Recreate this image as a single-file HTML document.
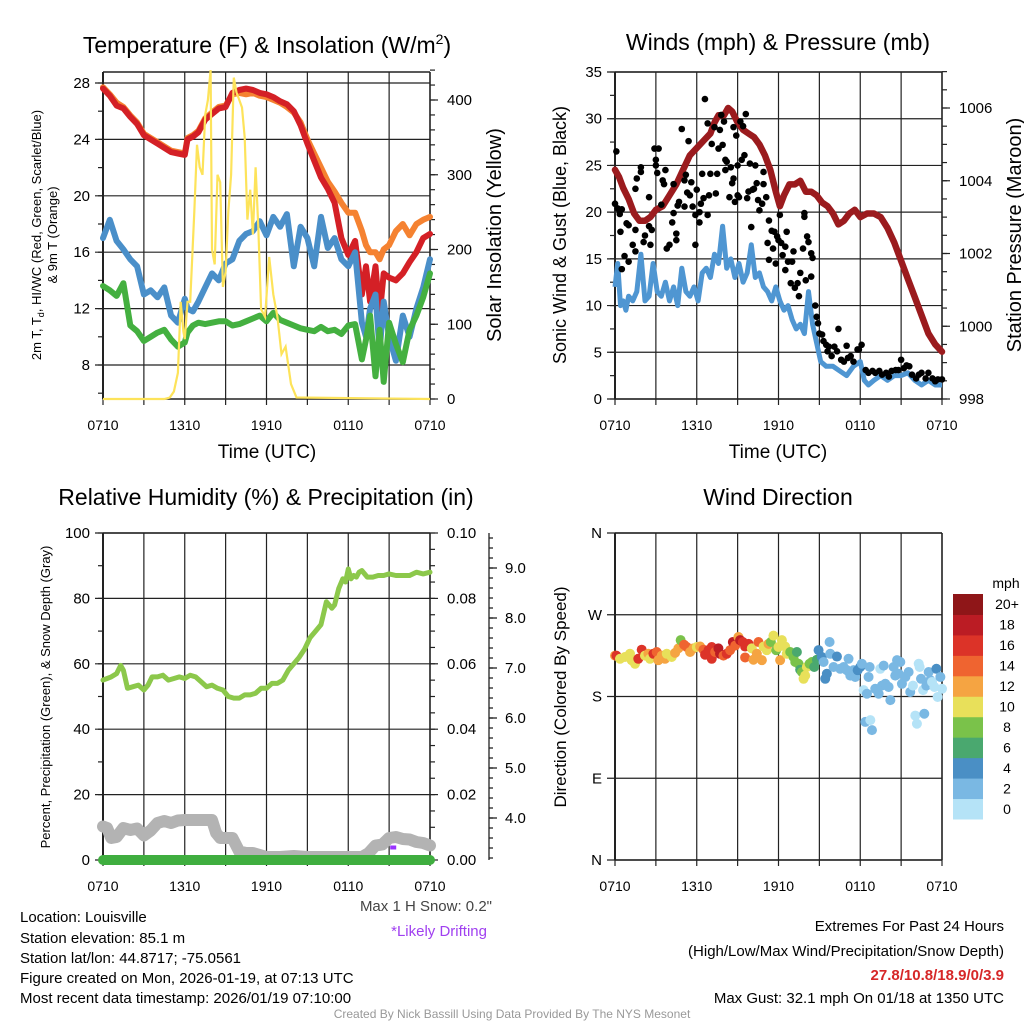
<!DOCTYPE html>
<html><head><meta charset="utf-8"><style>
html,body{margin:0;padding:0;background:#fff}
svg{display:block;font-family:"Liberation Sans",sans-serif}
</style></head><body>
<svg id="s" width="1024" height="1024" viewBox="0 0 1024 1024">
<rect width="1024" height="1024" fill="#fff"/>
<g font-size="23" text-anchor="middle" fill="#000">
<text x="267" y="53">Temperature (F) &amp; Insolation (W/m<tspan dy="-9" font-size="14">2</tspan><tspan dy="9">)</tspan></text>
<text x="778" y="50">Winds (mph) &amp; Pressure (mb)</text>
<text x="266" y="505">Relative Humidity (%) &amp; Precipitation (in)</text>
<text x="778" y="505">Wind Direction</text>
</g>
<g font-size="19" text-anchor="middle">
<text x="267" y="458">Time (UTC)</text>
<text x="778" y="458">Time (UTC)</text>
</g>
<text transform="translate(41,235) rotate(-90)" font-size="13" text-anchor="middle">2m T, T<tspan dy="3" font-size="9">d</tspan><tspan dy="-3">, HI/WC (Red, Green, Scarlet/Blue)</tspan></text>
<text transform="translate(57,235) rotate(-90)" font-size="13" text-anchor="middle">&amp; 9m T (Orange)</text>
<text transform="translate(501,235) rotate(-90)" font-size="20" text-anchor="middle">Solar Insolation (Yellow)</text>
<text transform="translate(566,235) rotate(-90)" font-size="18" text-anchor="middle">Sonic Wind &amp; Gust (Blue, Black)</text>
<text transform="translate(1021,235) rotate(-90)" font-size="20" text-anchor="middle">Station Pressure (Maroon)</text>
<text transform="translate(50,697) rotate(-90)" font-size="13" text-anchor="middle">Percent, Precipitation (Green), &amp; Snow Depth (Gray)</text>
<text transform="translate(566,697) rotate(-90)" font-size="17" text-anchor="middle">Direction (Colored By Speed)</text>
<g font-size="15" fill="#000">
<text x="20" y="922">Location: Louisville</text>
<text x="20" y="943">Station elevation: 85.1 m</text>
<text x="20" y="963">Station lat/lon: 44.8717; -75.0561</text>
<text x="20" y="983">Figure created on Mon, 2026-01-19, at 07:13 UTC</text>
<text x="20" y="1003">Most recent data timestamp: 2026/01/19 07:10:00</text>
<text x="492" y="911" text-anchor="end" fill="#444">Max 1 H Snow: 0.2"</text>
<text x="487" y="936" text-anchor="end" fill="#a040f0">*Likely Drifting</text>
<text x="1004" y="931" text-anchor="end">Extremes For Past 24 Hours</text>
<text x="1004" y="956" text-anchor="end">(High/Low/Max Wind/Precipitation/Snow Depth)</text>
<text x="1004" y="980" text-anchor="end" fill="#d62728" font-weight="bold">27.8/10.8/18.9/0/3.9</text>
<text x="1004" y="1003" text-anchor="end">Max Gust: 32.1 mph On 01/18 at 1350 UTC</text>
</g>
<text x="512" y="1018" font-size="12" fill="#999" text-anchor="middle">Created By Nick Bassill Using Data Provided By The NYS Mesonet</text>
</svg>
<script>
// ---- data (hours since 0710 UTC) ----
const xTickLabels=["0710","1310","1910","0110","0710"];
const tempTicks=[28,24,20,16,12,8];
const solarTicks=[0,100,200,300,400];
const windTicks=[0,5,10,15,20,25,30,35];
const presTicks=[998,1000,1002,1004,1006];
const rhTicks=[0,20,40,60,80,100];
const precipTicks=["0.00","0.02","0.04","0.06","0.08","0.10"];
const snowTicks=[4,5,6,7,8,9];
const dirTicks=["N","E","S","W","N"];
const speedBins=["0","2","4","6","8","10","12","14","16","18","20+"];

const tT=[0,0.5,1,1.5,2,2.5,3,3.5,4,4.5,5,5.5,6,6.2,6.6,7,7.5,8,8.5,9,9.5,10,10.5,11,11.5,12,12.5,13,13.5,14,14.5,15,15.5,16,16.5,17,17.5,18,18.5,19,19.3,19.6,20,20.3,20.6,21,21.5,22,22.5,23,23.5,24];
const tempRed=[27.6,27.1,26.4,26.2,25.6,25.1,24.3,24.0,23.7,23.4,23.1,23.0,22.9,24.0,24.2,24.5,25.4,25.8,26.2,26.3,27.3,27.5,27.6,27.5,27.3,27.2,27.0,26.7,26.5,26.0,25.0,23.7,22.5,21.3,20.5,19.5,17.0,15.8,16.8,13.0,15.0,12.5,15.0,11.5,14.5,14.2,14.0,14.5,15.3,16.0,17.0,17.3];
const tempOrange=[27.7,27.2,26.6,26.3,25.7,25.2,24.4,24.1,23.8,23.5,23.2,23.1,23.0,24.1,24.3,24.6,25.5,25.9,26.3,26.4,27.2,27.3,27.2,27.3,27.1,27.0,26.8,26.6,26.3,25.9,25.2,24.0,23.0,22.0,21.0,20.3,19.5,18.8,18.8,17.5,16.5,16.0,16.0,15.5,16.2,16.5,17.5,18.0,17.2,18.0,18.3,18.5];
const tempBlue=[17.0,18.3,16.8,16.2,15.5,15.0,13.0,13.3,12.8,13.5,11.5,11.0,12.7,12.0,11.8,12.5,13.5,14.5,14.0,15.2,15.5,16.8,17.3,17.5,18.2,17.2,18.5,17.8,18.7,15.0,17.8,17.0,15.0,18.5,16.3,17.0,15.5,15.0,16.0,11.0,10.0,12.0,13.0,9.0,12.5,10.0,8.3,11.5,10.0,12.0,13.5,15.5];
const tempGreen=[13.6,13.3,12.9,13.8,10.8,10.4,9.7,10.0,10.3,10.5,9.8,9.3,9.6,10.3,10.8,11.0,10.9,11.0,11.1,11.1,10.8,10.9,11.1,11.3,11.5,11.1,11.7,11.2,11.0,10.8,10.6,10.5,10.4,10.7,10.4,10.5,10.2,10.8,10.9,8.4,9.8,11.5,7.2,10.5,6.8,11.0,9.5,8.2,10.5,11.5,12.8,14.5];
const tS=[0,4.5,4.9,5.2,5.5,5.7,5.9,6.0,6.2,6.4,6.7,6.9,7.1,7.3,7.5,7.7,7.9,8.0,8.2,8.4,8.6,8.8,9.0,9.2,9.4,9.6,9.8,10.0,10.2,10.4,10.6,10.8,11.0,11.2,11.4,11.6,11.9,12.2,12.5,12.8,13.1,13.4,13.8,14.2,24];
const solar=[0,0,2,10,35,130,90,80,130,130,250,340,310,300,380,400,440,200,180,300,290,150,170,250,300,430,410,400,390,350,240,280,220,310,230,120,110,190,140,110,60,70,20,2,0];

const tW=[0,0.2,0.4,0.6,0.8,1,1.3,1.6,1.9,2.2,2.5,2.8,3.1,3.4,3.7,4,4.3,4.6,4.9,5.2,5.5,5.8,6.1,6.4,6.7,7,7.3,7.6,7.9,8.2,8.5,8.8,9.1,9.4,9.7,10,10.3,10.6,10.9,11.2,11.5,11.8,12.1,12.4,12.7,13,13.3,13.6,13.9,14.2,14.5,14.8,15.1,15.5,16,16.5,17,17.5,18,18.3,18.6,19,19.5,20,20.5,21,21.5,22,22.5,23,23.5,24];
const windSust=[12,14.5,10,10.5,9.5,11,10.5,11.5,15.5,10.5,11,14.5,11.5,11,12.5,10.5,12,10,14,11.5,11,12,10.5,13.5,14,13,15.5,14.5,18.5,14,15,13,14.5,12.5,13.5,16.5,13,13.5,12,11.5,10.5,12,10.5,9.5,10,8.5,7.5,8,7,11.5,8,6,4,3.5,3.5,3,2.5,3.5,4,2,1.5,2,2.5,2,2.5,2.5,2.8,2,1.5,2,1.5,1.5];
const tP=[0,0.3,0.6,1,1.4,1.8,2.2,2.6,3,3.5,4,4.5,5,5.5,6,6.5,7,7.3,7.6,8,8.3,8.6,9,9.4,9.8,10.2,10.6,11,11.4,11.8,12.1,12.4,12.8,13.2,13.6,14,14.4,14.8,15.2,15.6,16,16.4,16.8,17.2,17.6,18,18.5,19,19.5,20,20.5,21,21.5,22,22.5,23,23.5,24];
const pressure=[1004.3,1004.1,1003.8,1003.5,1003.1,1002.9,1002.9,1003.0,1003.2,1003.3,1003.6,1003.9,1004.3,1004.7,1004.9,1005.1,1005.3,1005.6,1005.8,1005.8,1006.0,1005.9,1005.6,1005.4,1005.3,1005.2,1005.0,1004.7,1004.3,1003.7,1003.3,1003.6,1003.9,1003.9,1004.0,1003.7,1003.7,1003.6,1003.4,1003.3,1003.1,1002.8,1002.9,1003.1,1003.2,1003.0,1003.1,1003.1,1003.0,1002.7,1002.3,1001.8,1001.3,1000.8,1000.3,999.8,999.5,999.3];
const gustT=[0.1,0,0.2,0.35,0.5,0.4,0.5,0.7,0.85,1.0,1.0,1.3,1.5,1.5,1.6,1.9,1.9,1.5,2.1,2.2,2.5,2.5,2.6,2.7,2.9,3.0,3.2,3.0,3.1,3.5,3.6,3.7,3.4,3.8,4.0,4.2,4.3,4.3,4.5,4.5,4.6,4.7,4.9,5.1,5.1,5.2,5.3,5.4,5.6,5.5,5.7,5.9,5.9,6.0,6.2,6.2,6.3,6.4,6.5,6.6,6.8,6.8,6.9,7.0,7.1,7.3,7.4,7.5,7.6,7.7,7.8,7.9,8.0,8.1,8.1,8.2,8.4,8.5,8.6,8.7,8.7,8.8,8.9,9.0,9.0,9.1,9.2,9.3,9.4,9.5,9.6,9.7,9.8,9.9,10.0,10.1,10.2,10.3,10.4,10.5,10.6,10.8,10.9,10.9,11.1,11.2,11.3,11.3,11.5,11.6,11.7,11.8,11.9,12.0,12.1,12.2,12.3,12.5,12.5,12.6,12.7,12.9,13.0,13.1,13.2,13.4,13.5,13.6,13.8,13.9,13.9,14.0,14.1,14.2,14.4,14.4,14.5,14.7,14.8,14.9,15.0,15.2,15.3,15.5,15.6,15.7,15.9,16.1,16.3,16.4,16.6,16.8,17.0,17.1,17.3,17.5,17.8,17.9,18.1,18.4,18.6,18.9,19.1,19.4,19.6,19.9,20.1,20.3,20.6,20.8,21.0,21.2,21.4,21.6,21.8,22.1,22.3,22.5,22.8,23.0,23.3,23.5,23.7,24];
const gustV=[26.5,20.9,20.4,19.8,20.3,17.9,13.9,15.3,18.8,14.7,18.6,16.5,18.1,15.8,23.6,24.3,24.8,22.5,16.8,17.5,21.6,18.5,16.5,18.1,26.8,25.6,26.8,25,24.2,23.4,23,24.5,20.8,16.1,16.5,18.9,19.9,23,17.7,17,20.7,21.1,28.9,20.6,23.4,24,22.1,27.6,23.2,21.8,20.6,16.5,19.7,22.4,20,18.9,20.9,24.1,21.5,32.1,29.5,19.7,21.8,24.1,27.3,29.1,22,24.1,26.8,28.8,30.4,27.2,29.7,24.5,25.6,25.4,21.6,24.8,23.1,29.1,23.6,21.1,28.2,25,21.8,21.6,29.7,25.6,29.2,26.1,30.5,21.5,22.2,25.2,18.4,22.4,22.5,25,23.1,21.3,20.2,20.9,24.3,23,21.6,16.7,19.1,14.9,18,16.1,17.9,14.5,17.4,17,19.7,16.7,15.4,16.3,13.8,17.9,14.7,12.4,14.7,15.8,11.9,12.4,11,13.5,16.1,19.5,19.9,12.7,17.4,16.8,15.6,13.1,15.1,10,8.8,8.1,7,6.9,6.2,5.8,5.1,5.6,4.6,5.6,5.1,7.5,4.2,4,5.7,4.4,4.6,4,5.3,5.3,5.8,3.1,2.8,3,2.8,3,2.6,2.8,2.4,3,3.1,3.1,4.2,3.3,3.6,3.5,2.6,2.2,2.6,2.8,2.2,2.8,2.2,1.9,2.1,2.1];

const tR=[0,0.3,0.6,1,1.3,1.5,1.8,2.2,2.6,3,3.3,3.6,4,4.4,4.8,5.2,5.6,6,6.4,6.8,7.2,7.6,8,8.4,8.8,9.2,9.6,10,10.4,10.8,11.2,11.6,12,12.4,12.8,13.2,13.6,14,14.4,14.8,15.2,15.6,16,16.4,16.8,17,17.3,17.6,17.8,18,18.2,18.4,18.6,18.8,19,19.4,19.8,20.2,20.6,21,21.5,22,22.5,23,23.5,24];
const rh=[55,55.5,56,57,59.5,58,52.5,53,53.5,52,53.5,56,56,56.5,55,55.5,56,55.5,56.5,56,54.5,53,53.5,52.5,52,50,49.5,49.5,50.5,50.5,51,52.5,52.5,54,54,55,58,60,62,64.5,68,70,72,79,77,78,83,86,85,89,86,87,86.5,88,88.5,86.5,86.5,87,87,87.5,87,87,87,88,87.5,88];
const tSnow=[0,0.3,0.6,1,1.5,2,2.5,3,3.5,4,4.5,5,5.5,6,6.5,7,7.5,8,8.3,8.6,9,9.5,10,10.5,11,12,13,14,15,16,17,18,19,19.5,20,20.5,21,21.5,22,22.5,23,23.5,24];
const snowDepth=[3.83,3.80,3.60,3.62,3.80,3.76,3.79,3.65,3.75,3.90,3.94,3.90,3.95,3.96,3.96,3.96,3.96,3.96,3.70,3.60,3.60,3.60,3.33,3.30,3.30,3.22,3.22,3.24,3.22,3.22,3.22,3.22,3.22,3.30,3.45,3.47,3.60,3.62,3.58,3.57,3.52,3.50,3.45];
const tPrecip=[0,24];
const precip=[0,0];
const driftT=[21.3];
const driftV=[3.41];

const dirT=[0,0.1,0.37,0.73,1.1,1.22,1.47,1.71,1.96,2.2,2.45,2.57,2.82,3.06,3.18,3.43,3.67,3.8,4.16,4.41,4.65,4.82,5.07,5.27,5.51,5.76,6.0,6.25,6.49,6.61,6.86,7.1,7.1,7.35,7.59,7.71,7.96,8.2,8.45,8.65,8.82,9.06,9.18,9.38,9.55,9.55,9.8,10.04,10.16,10.41,10.53,10.78,10.9,11.14,11.27,11.44,11.63,11.83,12.0,12.12,12.25,12.49,12.61,12.86,13.1,13.23,13.35,13.47,13.59,13.72,13.84,13.96,14.08,14.28,14.45,14.62,14.82,14.94,15.18,15.31,15.43,15.55,15.75,15.8,16.04,16.29,16.53,16.78,17.02,17.14,17.27,17.51,17.63,17.81,18.0,18.12,18.25,18.37,18.49,18.61,18.69,18.74,18.86,19.1,19.35,19.47,19.59,19.72,19.84,20.08,20.21,20.45,20.57,20.7,20.82,20.94,21.06,21.31,21.55,21.67,21.87,22.04,22.16,22.29,22.36,22.46,22.61,22.7,22.85,23.02,23.14,23.27,23.44,23.59,23.68,23.88,24.0];
const dirDeg=[225,225,221.5,223.5,227,220,216,221.5,231.5,225,227,221.5,227,229,220,225,221.5,227,223.5,228,233,242,237,234.5,229,233,234.5,235,231.5,226,231,234.5,221.5,229,233,227,225,227,231,240,236,245.5,242,240,235,223,238,233,220.5,227,240,220,235,231,238,240,247,231,234.5,220,242,235,227,229,223.5,218,229,216,209.5,207,199.5,203,212.5,216,218,212.5,220.5,231,223.5,218,199.5,205,240,227,212.5,224,210.5,212.5,209,221.5,203,209,201.5,209,212.5,216,187,152,183,201.5,212.5,154,143,188.5,183,210.5,192,214,194,190.5,176,212.5,203,220,205,218,194,201.5,207,185,192,159,150,216,212.5,199.5,187,161,192,207,198,196,190.5,210.5,179.5,201.5,188.5];
const dirSpd=[12,16,10,10,10,10,10,16,16,10,12,10,16,14,12,12,12,10,10,12,12,8,14,14,12,12,10,12,14,16,16,16,16,14,18,18,14,16,14,18,14,12,18,16,16,14,16,10,12,12,14,12,10,10,12,8,10,8,10,12,10,10,10,8,8,8,6,8,6,8,10,10,10,8,8,6,6,4,4,2,4,4,2,2,2,4,2,2,2,2,2,2,2,4,4,2,0,2,2,2,2,0,2,2,2,0,2,2,2,2,2,2,2,2,2,2,2,2,2,2,0,0,0,0,0,2,0,2,2,2,2,0,0,4,0,2,0];
const speedColors=["#b5e3f7","#7ab8e3","#4a8fc5","#4aa86f","#7ac24a","#e8e05a","#f5a442","#ef6430","#dc3328","#bb1c24","#8f1618"];

// ---- rendering ----
const NS="http://www.w3.org/2000/svg";
const svg=document.getElementById('s');
function mk(tag,attrs,parent){const e=document.createElementNS(NS,tag);for(const k in attrs)e.setAttribute(k,attrs[k]);(parent||svg).appendChild(e);return e;}
function lin(d0,d1,r0,r1){return v=>r0+(v-d0)/(d1-d0)*(r1-r0);}
function linePath(xs,ys,fx,fy){const n=Math.min(xs.length,ys.length);let d='';for(let i=0;i<n;i++)d+=(i?'L':'M')+fx(xs[i]).toFixed(1)+','+fy(ys[i]).toFixed(1);return d;}
function txt(x,y,s,anchor,size,parent,color){const e=mk('text',{x:x,y:y,'text-anchor':anchor,'font-size':size,fill:color||'#000'},parent);e.textContent=s;return e;}

function panel(name,x0,x1,y0,y1,leftVals,leftF,leftLabels,rightVals,rightF,rightLabels,minorL,minorR){
  const g=mk('g',{});
  
  
  const fx=lin(0,24,x0,x1);
  const grid=mk('g',{stroke:'#222','stroke-width':1.2},g);
  
  
  for(let h=0;h<=24;h+=3){mk('line',{x1:fx(h),x2:fx(h),y1:y0,y2:y1+6},grid);}
  leftVals.forEach(v=>{mk('line',{x1:x0-8,x2:x1,y1:leftF(v),y2:leftF(v)},grid);});
  if(minorL)minorL.forEach(v=>{mk('line',{x1:x0-5,x2:x0,y1:leftF(v),y2:leftF(v)},grid);});
  mk('line',{x1:x0,x2:x0,y1:y0,y2:y1,'stroke-width':2},grid);
  mk('line',{x1:x1,x2:x1,y1:y0,y2:y1,'stroke-width':1.5},grid);
  mk('line',{x1:x0,x2:x1,y1:y1,y2:y1,'stroke-width':1.5},grid);
  mk('line',{x1:x0,x2:x1,y1:y0,y2:y0,'stroke-width':1.5},grid);
  if(rightVals){rightVals.forEach(v=>{mk('line',{x1:x1,x2:x1+8,y1:rightF(v),y2:rightF(v)},grid);});}
  if(minorR)minorR.forEach(v=>{mk('line',{x1:x1,x2:x1+5,y1:rightF(v),y2:rightF(v)},grid);});
  const lab=mk('g',{},g);
  
  
  xTickLabels.forEach((s,i)=>{txt(fx(i*6),y1+31,s,'middle',14,lab);});
  leftVals.forEach((v,i)=>{txt(x0-13,leftF(v)+5,leftLabels[i],'end',15,lab);});
  if(rightVals)rightVals.forEach((v,i)=>{txt(x1+17,rightF(v)+5,rightLabels[i],'start',15,lab);});
  return {g,fx};
}
function range(a,b,s){const r=[];for(let v=a;v<=b+1e-9;v+=s)r.push(+v.toFixed(4));return r;}

// Panel 1
const fT=lin(28,8,83,365), fSol=lin(0,400,399,100);
let p=panel('temperature',103,430,72,399,tempTicks,fT,tempTicks.map(String),solarTicks,fSol,solarTicks.map(String),range(6,28,2),range(0,440,20));
[[tT,tempOrange,'#f58231','temp-9m-line'],[tT,tempRed,'#d42026','temp-2m-line'],[tT,tempBlue,'#4a8fc9','heat-index-windchill-line'],[tT,tempGreen,'#44b040','dewpoint-line']].forEach(s=>{
  const e=mk('path',{d:linePath(s[0],s[1],p.fx,fT),fill:'none',stroke:s[2],'stroke-width':6,'stroke-linejoin':'round','stroke-linecap':'round'},p.g);
  
  
});
let e=mk('path',{d:linePath(tS,solar,p.fx,fSol),fill:'none',stroke:'#fde35a','stroke-width':2.2},p.g);



// Panel 2
const fWd=lin(0,35,399,72), fPr=lin(998,1006,399,108);
p=panel('wind',615,942,72,399,windTicks,fWd,windTicks.map(String),presTicks,fPr,presTicks.map(String),range(0,35,2.5),range(998,1007,0.5));
e=mk('path',{d:linePath(tW,windSust,p.fx,fWd),fill:'none',stroke:'#4f96d2','stroke-width':5,'stroke-linejoin':'round'},p.g);


e=mk('path',{d:linePath(tP,pressure,p.fx,fPr),fill:'none',stroke:'#9b1b1e','stroke-width':6.5,'stroke-linejoin':'round','stroke-linecap':'round'},p.g);


const gg=mk('g',{fill:'#000'},p.g);


gustT.forEach((t,i)=>{if(gustV[i]===undefined)return;const c=mk('circle',{cx:p.fx(t),cy:fWd(gustV[i]),r:3.3},gg);
  
  });

// Panel 3
const fRh=lin(0,100,860,533), fSn=lin(4,9,818,568);
p=panel('humidity',103,430,533,860,rhTicks,fRh,rhTicks.map(String),rhTicks,fRh,precipTicks,range(0,100,10),range(0,100,5));
const sa=mk('g',{stroke:'#222','stroke-width':1.3});


mk('line',{x1:489,x2:489,y1:533,y2:860},sa);
snowTicks.forEach(v=>{mk('line',{x1:489,x2:497,y1:fSn(v),y2:fSn(v)},sa);
  const t=txt(505,fSn(v)+5,v.toFixed(1),'start',15,svg);t.setAttribute('stroke','none');});
range(3.2,9.6,0.2).forEach(v=>{mk('line',{x1:489,x2:493,y1:fSn(v),y2:fSn(v)},sa);});
e=mk('path',{d:linePath(tSnow,snowDepth,p.fx,fSn),fill:'none',stroke:'#b3b3b3','stroke-width':12,'stroke-linejoin':'round','stroke-linecap':'round'},p.g);


const fPc=lin(0,0.1,860,533);
e=mk('path',{d:linePath(tPrecip,precip,p.fx,fPc),fill:'none',stroke:'#3fae3f','stroke-width':10,'stroke-linecap':'round'},p.g);


e=mk('path',{d:linePath(tR,rh,p.fx,fRh),fill:'none',stroke:'#8cc84b','stroke-width':5,'stroke-linejoin':'round','stroke-linecap':'round'},p.g);


driftT.forEach((t,i)=>{const r=mk('rect',{x:p.fx(t)-3,y:fSn(driftV[i])-2,width:6,height:4,fill:'#9933ff'},p.g);
  
  });

// Panel 4
const fD=lin(0,360,860,533);
p=panel('direction',615,942,533,860,[0,90,180,270,360],fD,dirTicks,null,null,null,null,null);
const dg=mk('g',{},p.g);


const nDir=Math.min(dirT.length,dirDeg.length,dirSpd.length);
for(let i=0;i<nDir;i++){const b=Math.min(10,Math.floor(dirSpd[i]/2));
  const c=mk('circle',{cx:p.fx(dirT[i]),cy:fD(dirDeg[i]),r:5,fill:speedColors[b]},dg);
  
  }
// colorbar
const cb=mk('g',{});


txt(1006,588,'mph','middle',14,cb);
const bh=225/11;
speedBins.forEach((s,i)=>{const y=594+(10-i)*bh;
  const r=mk('rect',{x:953,y:y,width:30,height:bh+0.5,fill:speedColors[i]},cb);
  
  
  txt(1007,y+bh/2+5,s,'middle',14,cb);});
</script>
</body></html>
